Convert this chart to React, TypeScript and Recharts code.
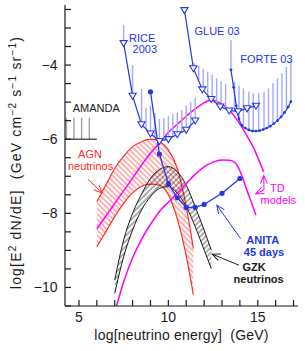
import React from 'react';
import {
  Area,
  ComposedChart,
  ErrorBar,
  Line,
  ReferenceDot,
  Scatter,
  XAxis,
  YAxis,
} from 'recharts';

const BLUE = '#2438e8';
const LIGHT = '#a2abf4';
const RED = '#ff2b2b';
const MAG = '#ff00ff';
const INK = '#1a1a1a';

// axes
const xTicks = [5, 6, 7, 8, 9, 10, 11, 12, 13, 14, 15, 16, 17];
const xLabels = [5, 10, 15];
const yTicks = [-10.5, -10, -9.5, -9, -8.5, -8, -7.5, -7, -6.5, -6, -5.5, -5, -4.5, -4, -3.5, -3, -2.5];
const yLabels = [-10, -8, -6, -4];

// RICE 2003 limits
const riceX = [7.5, 8, 8.5, 9, 9.5, 10, 10.5, 11, 11.5];
const riceY = [-3.41, -4.83, -5.6, -5.85, -6.05, -6.0, -5.87, -5.75, -5.5];
const riceBarX = [7.5, 8, 8.5, 8.75, 9, 9.25, 9.5, 9.75, 10, 10.25, 10.5, 10.75, 11, 11.25, 11.5];
const riceBarLo = [-3.41, -4.83, -5.6, -5.75, -5.85, -5.95, -6.05, -6.02, -6.0, -5.93, -5.87, -5.8, -5.75, -5.63, -5.5];
const riceBarHi = [-2.92, -4.0, -4.65, -5.15, -5.1, -5.3, -5.45, -5.43, -5.38, -5.33, -5.28, -5.22, -5.1, -5.0, -4.88];

// GLUE 03
const glueX = [10.9, 11.4, 11.9, 12.4, 12.9, 13.4, 13.9, 14.4, 14.9];
const glueY = [-2.52, -4.09, -4.66, -4.92, -5.12, -5.23, -5.25, -5.17, -5.1];
const glueBarX = [11.45, 11.7, 11.95, 12.2, 12.45, 12.7, 12.95, 13.2];
const glueBarLo = [-4.15, -4.4, -4.66, -4.8, -4.92, -5.02, -5.12, -5.18];
const glueBarHi = [-3.95, -4.02, -4.1, -4.18, -4.26, -4.36, -4.44, -4.5];

// FORTE 03
const forteX = [13.5, 13.65, 13.8, 13.95, 14.1, 14.3, 14.5, 14.7, 14.9, 15.1, 15.3, 15.5, 15.7, 15.9, 16.1, 16.3, 16.5, 16.7, 16.85];
const forteY = [-4.13, -4.6, -5.1, -5.45, -5.62, -5.7, -5.75, -5.78, -5.78, -5.77, -5.74, -5.7, -5.65, -5.58, -5.5, -5.4, -5.28, -5.13, -4.99];
const forteBarX = [13.5, 13.7, 13.95, 14.2, 14.5, 14.75, 15.05, 15.35, 15.6, 15.85, 16.1, 16.35, 16.6, 16.85];
const forteBarLo = [-4.13, -5.25, -5.45, -5.66, -5.75, -5.78, -5.77, -5.73, -5.67, -5.58, -5.5, -5.37, -5.2, -4.99];
const forteBarHi = [-3.33, -4.45, -4.55, -4.63, -4.72, -4.76, -4.76, -4.72, -4.63, -4.49, -4.36, -4.22, -4.05, -3.87];

// ANITA 45 days
const anitaX = [9, 9.5, 10, 10.5, 11, 11.5, 12, 13, 14];
const anitaY = [-4.72, -6.4, -7.2, -7.58, -7.84, -7.84, -7.76, -7.46, -7.06];

// AMANDA
const amandaX = [4.22, 6.0];
const amandaY = [-6, -6];
const amandaBarX = [4.3, 4.72, 5.15, 5.58];
const amandaBarLo = [-6, -6, -6, -6];
const amandaBarHi = [-5.42, -5.42, -5.42, -5.42];

// AGN neutrinos band
const agnX = [6, 6.5, 7, 7.5, 8, 8.5, 9, 9.5, 10, 10.5, 11, 11.4];
const agnHi = [-7.69, -7.24, -6.79, -6.46, -6.2, -6.07, -6.0, -6.06, -6.29, -6.79, -7.82, -8.95];
const agnLo = [-8.9, -8.5, -8.09, -7.73, -7.45, -7.27, -7.21, -7.24, -7.5, -8.15, -9.15, -10.2];

// GZK neutrinos band
const gzkX = [7, 7.5, 8, 8.5, 9, 9.5, 10, 10.5, 11, 11.5, 12, 12.4];
const gzkHi = [-9.8, -8.72, -8.0, -7.48, -7.06, -6.82, -6.74, -6.88, -7.24, -7.82, -8.45, -8.99];
const gzkLo = [-10.16, -9.17, -8.45, -7.91, -7.55, -7.33, -7.28, -7.46, -7.82, -8.36, -8.99, -9.49];

// TD models
const td1X = [6, 7, 8, 8.5, 9, 9.5, 10, 10.5, 11, 11.5, 12, 12.4, 12.9, 13.65, 14.2, 14.77, 15.33];
const td1Y = [-8.42, -7.73, -7.05, -6.7, -6.38, -6.1, -5.82, -5.6, -5.38, -5.18, -5.02, -4.94, -5.03, -5.35, -5.75, -6.24, -6.88];
const td2X = [7.1, 7.5, 8, 8.5, 9, 9.5, 10, 10.5, 11, 11.5, 12, 12.5, 13, 13.4, 13.7, 14, 14.3, 14.6, 14.9];
const td2Y = [-10.5, -9.85, -9.2, -8.7, -8.3, -7.95, -7.7, -7.45, -7.2, -6.95, -6.75, -6.62, -6.56, -6.57, -6.62, -6.85, -7.25, -7.65, -8.05];

// annotation arrows
const agnArrow = [{ x: 5.5, y: -7.08 }, { x: 6.3, y: -7.45 }];
const tdArrowUp = [{ x: 15.35, y: -7.37 }, { x: 15.33, y: -6.98 }];
const tdArrowLeft = [{ x: 15.35, y: -7.37 }, { x: 14.88, y: -7.47 }];
const anitaArrow = [{ x: 14.04, y: -8.68 }, { x: 12.71, y: -7.78 }];
const gzkArrow = [{ x: 13.95, y: -9.4 }, { x: 12.45, y: -9.1 }];

const notes = [
  { x: 7.8, y: -3.37, text: 'RICE', color: BLUE, anchor: 'start', bold: false },
  { x: 8.0, y: -3.68, text: '2003', color: BLUE, anchor: 'start', bold: false },
  { x: 11.46, y: -3.19, text: 'GLUE 03', color: BLUE, anchor: 'start', bold: false },
  { x: 14.02, y: -3.95, text: 'FORTE 03', color: BLUE, anchor: 'start', bold: false },
  { x: 4.65, y: -5.26, text: 'AMANDA', color: INK, anchor: 'start', bold: false },
  { x: 5.62, y: -6.52, text: 'AGN', color: RED, anchor: 'middle', bold: false },
  { x: 5.65, y: -6.83, text: 'neutrinos', color: RED, anchor: 'middle', bold: false },
  { x: 16.09, y: -7.43, text: 'TD', color: MAG, anchor: 'middle', bold: false },
  { x: 16.15, y: -7.74, text: 'models', color: MAG, anchor: 'middle', bold: false },
  { x: 15.28, y: -8.84, text: 'ANITA', color: BLUE, anchor: 'middle', bold: true },
  { x: 15.35, y: -9.15, text: '45 days', color: BLUE, anchor: 'middle', bold: true },
  { x: 14.8, y: -9.56, text: 'GZK', color: INK, anchor: 'middle', bold: true },
  { x: 15.05, y: -9.87, text: 'neutrinos', color: INK, anchor: 'middle', bold: true },
];

const pts = (xs: number[], ys: number[]) => xs.map((x, i) => ({ x, y: ys[i] }));
const band = (xs: number[], lo: number[], hi: number[]) => xs.map((x, i) => ({ x, r: [lo[i], hi[i]] }));
const bars = (xs: number[], lo: number[], hi: number[]) =>
  xs.map((x, i) => ({ x, y: lo[i], e: [0, hi[i] - lo[i]] }));

const tri = (p: any) => {
  if (p.cx == null || p.cy == null) return <g key={p.index} />;
  const { cx, cy } = p;
  return (
    <polygon
      key={p.index}
      points={`${cx - 3.6},${cy - 2.6} ${cx + 3.6},${cy - 2.6} ${cx},${cy + 3.4}`}
      fill="#fff"
      stroke={BLUE}
      strokeWidth={1.1}
    />
  );
};

const none = () => <g />;

const YLab = (p: any) => {
  const vb = p.viewBox;
  const cx = 21;
  const cy = vb.y + vb.height / 2 + 7;
  return (
    <text
      x={cx}
      y={cy}
      transform={`rotate(-90, ${cx}, ${cy})`}
      textAnchor="middle"
      fontSize={14}
      fill={INK}
      letterSpacing={1.2}
      xmlSpace="preserve"
    >
      log[E<tspan dy={-5} fontSize={10}>2</tspan>
      <tspan dy={5}> dN/dE]  (GeV cm</tspan>
      <tspan dy={-5} fontSize={10}>−2</tspan>
      <tspan dy={5}> s</tspan>
      <tspan dy={-5} fontSize={10}>−1</tspan>
      <tspan dy={5}> sr</tspan>
      <tspan dy={-5} fontSize={10}>−1</tspan>
      <tspan dy={5}>)</tspan>
    </text>
  );
};

const XLab = (p: any) => {
  const vb = p.viewBox;
  return (
    <text
      x={vb.x + vb.width / 2}
      y={vb.y + 34}
      textAnchor="middle"
      fontSize={14}
      fill={INK}
      letterSpacing={0.2}
      xmlSpace="preserve"
    >
      log[neutrino energy]  (GeV)
    </text>
  );
};

export default function App() {
  const tickStyle = { fontSize: 14, fill: INK };
  return (
    <div style={{ position: 'absolute', left: 0, top: 0, fontFamily: '"Liberation Sans", Arial, sans-serif' }}>
      <ComposedChart width={305} height={351} margin={{ top: 5, right: 7, bottom: 0, left: 0 }}>
        <defs>
          <pattern id="hatchRed" width="3.8" height="3.8" patternUnits="userSpaceOnUse" patternTransform="rotate(-45)">
            <line x1="1" y1="0" x2="1" y2="3.8" stroke={RED} strokeWidth="0.7" />
          </pattern>
          <pattern id="hatchBlack" width="3.8" height="3.8" patternUnits="userSpaceOnUse" patternTransform="rotate(45)">
            <line x1="1" y1="0" x2="1" y2="3.8" stroke={INK} strokeWidth="0.7" />
          </pattern>
          <marker id="arBlue" markerWidth="10" markerHeight="10" refX="9" refY="5" orient="auto" markerUnits="userSpaceOnUse">
            <path d="M1,1.5 L9,5 L1,8.5" fill="none" stroke={BLUE} strokeWidth="1" />
          </marker>
          <marker id="arRed" markerWidth="10" markerHeight="10" refX="9" refY="5" orient="auto" markerUnits="userSpaceOnUse">
            <path d="M1,1.5 L9,5 L1,8.5" fill="none" stroke={RED} strokeWidth="1" />
          </marker>
          <marker id="arMag" markerWidth="10" markerHeight="10" refX="9" refY="5" orient="auto" markerUnits="userSpaceOnUse">
            <path d="M1,1.5 L9,5 L1,8.5" fill="none" stroke={MAG} strokeWidth="1" />
          </marker>
          <marker id="arInk" markerWidth="10" markerHeight="10" refX="9" refY="5" orient="auto" markerUnits="userSpaceOnUse">
            <path d="M1,1.5 L9,5 L1,8.5" fill="none" stroke={INK} strokeWidth="1" />
          </marker>
        </defs>

        <XAxis
          dataKey="x"
          type="number"
          domain={[4.22, 17.25]}
          allowDataOverflow
          ticks={xTicks}
          tickFormatter={(v: number) => (xLabels.includes(v) ? String(v) : '')}
          tickSize={-6}
          tickMargin={12}
          height={45}
          tick={tickStyle}
          stroke={INK}
          strokeWidth={1.2}
          label={(p: any) => <XLab {...p} />}
        />
        <XAxis
          xAxisId="top"
          orientation="top"
          type="number"
          domain={[4.22, 17.25]}
          allowDataOverflow
          ticks={xTicks}
          tickFormatter={() => ''}
          tickSize={-6}
          height={0}
          stroke={INK}
          strokeWidth={1.2}
        />
        <YAxis
          dataKey="y"
          type="number"
          domain={[-10.5, -2.38]}
          allowDataOverflow
          ticks={yTicks}
          tickFormatter={(v: number) => (yLabels.includes(v) ? `−${Math.abs(v)}` : '')}
          tickSize={-6}
          tickMargin={13.5}
          width={65}
          tick={tickStyle}
          stroke={INK}
          strokeWidth={1.2}
          label={(p: any) => <YLab {...p} />}
        />
        <YAxis
          yAxisId="right"
          orientation="right"
          type="number"
          domain={[-10.5, -2.38]}
          allowDataOverflow
          ticks={yTicks}
          tickFormatter={() => ''}
          tickSize={-6}
          width={0}
          stroke={INK}
          strokeWidth={1.2}
        />

        <Area data={band(agnX, agnLo, agnHi)} dataKey="r" type="monotone" stroke={RED} strokeWidth={1.2}
          fill="url(#hatchRed)" fillOpacity={1} dot={false} activeDot={false} isAnimationActive={false} />
        <Area data={band(gzkX, gzkLo, gzkHi)} dataKey="r" type="monotone" stroke={INK} strokeWidth={1}
          fill="url(#hatchBlack)" fillOpacity={1} dot={false} activeDot={false} isAnimationActive={false} />

        <Line data={pts(td1X, td1Y)} dataKey="y" type="monotone" stroke={MAG} strokeWidth={1.5} dot={false} activeDot={false} isAnimationActive={false} />
        <Line data={pts(td2X, td2Y)} dataKey="y" type="monotone" stroke={MAG} strokeWidth={1.5} dot={false} activeDot={false} isAnimationActive={false} />

        <Scatter data={bars(amandaBarX, amandaBarLo, amandaBarHi)} shape={none} isAnimationActive={false}>
          <ErrorBar dataKey="e" direction="y" width={0} stroke="#a0a0a0" strokeWidth={1.4} isAnimationActive={false} />
        </Scatter>
        <Line data={pts(amandaX, amandaY)} dataKey="y" stroke={INK} strokeWidth={1.1} dot={false} activeDot={false} isAnimationActive={false} />

        <Scatter data={bars(riceBarX, riceBarLo, riceBarHi)} shape={none} isAnimationActive={false}>
          <ErrorBar dataKey="e" direction="y" width={0} stroke={LIGHT} strokeWidth={1.4} isAnimationActive={false} />
        </Scatter>
        <Scatter data={bars(glueBarX, glueBarLo, glueBarHi)} shape={none} isAnimationActive={false}>
          <ErrorBar dataKey="e" direction="y" width={0} stroke={LIGHT} strokeWidth={1.4} isAnimationActive={false} />
        </Scatter>
        <Scatter data={bars(forteBarX, forteBarLo, forteBarHi)} shape={none} isAnimationActive={false}>
          <ErrorBar dataKey="e" direction="y" width={0} stroke={LIGHT} strokeWidth={1.4} isAnimationActive={false} />
        </Scatter>

        <Line data={pts(forteX, forteY)} dataKey="y" type="monotone" stroke={BLUE} strokeWidth={1.2}
          dot={{ r: 1.4, fill: BLUE, stroke: BLUE, strokeWidth: 0 }} activeDot={false} isAnimationActive={false} />
        <Line data={pts(riceX, riceY)} dataKey="y" stroke={BLUE} strokeWidth={1.2} dot={tri} activeDot={false} isAnimationActive={false} />
        <Line data={pts(glueX, glueY)} dataKey="y" stroke={BLUE} strokeWidth={1.2} dot={tri} activeDot={false} isAnimationActive={false} />
        <Line data={pts(anitaX, anitaY)} dataKey="y" stroke={BLUE} strokeWidth={1.3}
          dot={{ r: 2.6, fill: BLUE, stroke: BLUE, strokeWidth: 0 }} activeDot={false} isAnimationActive={false} />

        <Line data={agnArrow} dataKey="y" stroke={RED} strokeWidth={1} dot={false} activeDot={false} markerEnd="url(#arRed)" isAnimationActive={false} />
        <Line data={tdArrowUp} dataKey="y" stroke={MAG} strokeWidth={1} dot={false} activeDot={false} markerEnd="url(#arMag)" isAnimationActive={false} />
        <Line data={tdArrowLeft} dataKey="y" stroke={MAG} strokeWidth={1} dot={false} activeDot={false} markerEnd="url(#arMag)" isAnimationActive={false} />
        <Line data={anitaArrow} dataKey="y" stroke={BLUE} strokeWidth={1} dot={false} activeDot={false} markerEnd="url(#arBlue)" isAnimationActive={false} />
        <Line data={gzkArrow} dataKey="y" stroke={INK} strokeWidth={1} dot={false} activeDot={false} markerEnd="url(#arInk)" isAnimationActive={false} />

        {notes.map((n) => (
          <ReferenceDot
            key={n.text + n.x}
            x={n.x}
            y={n.y}
            r={0}
            ifOverflow="visible"
            shape={(p: any) => (
              <text x={p.cx} y={p.cy} fill={n.color} fontSize={11} fontWeight={n.bold ? 'bold' : 'normal'}
                textAnchor={n.anchor as any}>
                {n.text}
              </text>
            )}
          />
        ))}
      </ComposedChart>
    </div>
  );
}
